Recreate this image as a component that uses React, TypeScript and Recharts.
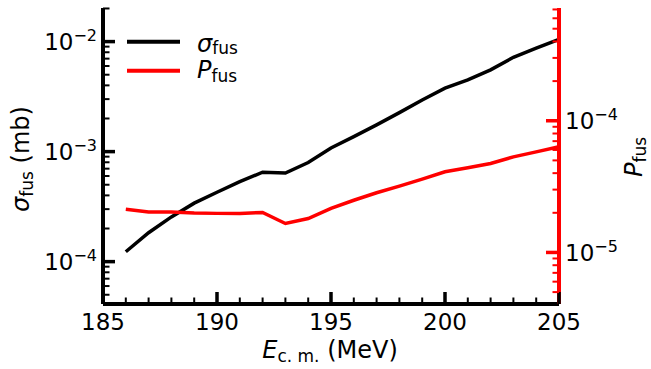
import React from 'react';
import { LineChart, Line, XAxis, YAxis, Legend } from 'recharts';

const energies = [186, 187, 188, 189, 190, 191, 192, 193, 194, 195, 196, 197, 198, 199, 200, 201, 202, 203, 204, 205];
const sigmaFus = [1.23e-4, 1.83e-4, 2.55e-4, 3.4e-4, 4.27e-4, 5.33e-4, 6.5e-4, 6.38e-4, 7.95e-4, 1.08e-3, 1.37e-3, 1.75e-3, 2.26e-3, 2.95e-3, 3.77e-3, 4.49e-3, 5.53e-3, 7.2e-3, 8.7e-3, 1.05e-2];
const pFus = [2.13e-5, 2.03e-5, 2.03e-5, 1.99e-5, 1.98e-5, 1.98e-5, 2.01e-5, 1.66e-5, 1.81e-5, 2.16e-5, 2.49e-5, 2.84e-5, 3.19e-5, 3.6e-5, 4.1e-5, 4.39e-5, 4.74e-5, 5.32e-5, 5.8e-5, 6.34e-5];

const xTicks = [185, 186, 187, 188, 189, 190, 191, 192, 193, 194, 195, 196, 197, 198, 199, 200, 201, 202, 203, 204, 205];
const xMajorTicks = [185, 190, 195, 200, 205];
const leftMajorTicks = [1e-4, 1e-3, 1e-2];
const leftMinorTicks = [5e-5, 6e-5, 7e-5, 8e-5, 9e-5, 2e-4, 3e-4, 4e-4, 5e-4, 6e-4, 7e-4, 8e-4, 9e-4, 2e-3, 3e-3, 4e-3, 5e-3, 6e-3, 7e-3, 8e-3, 9e-3, 2e-2];
const rightMajorTicks = [1e-5, 1e-4];
const rightMinorTicks = [5e-6, 6e-6, 7e-6, 8e-6, 9e-6, 2e-5, 3e-5, 4e-5, 5e-5, 6e-5, 7e-5, 8e-5, 9e-5, 2e-4, 3e-4, 4e-4, 5e-4, 6e-4, 7e-4];
const leftDomain = [4.12e-5, 2.02e-2];
const rightDomain = [4.06e-6, 7.18e-4];
const xDomain = [185, 205];

const legendItems = [
  { key: 'sigma', main: 'σ', sub: 'fus', color: '#000000' },
  { key: 'p', main: 'P', sub: 'fus', color: '#ff0000' },
];

const data = energies.map((e, i) => ({ E: e, sigma: sigmaFus[i], p: pFus[i] }));

const FONT = '"DejaVu Sans", Verdana, sans-serif';
const TICK_FS = 23;
const SUP_FS = 16;
const LABEL_FS = 24;
const SUB_FS = 17;

const isIn = (arr: number[], v: number) => arr.some((m) => Math.abs(m - v) / m < 1e-6);
const expOf = (v: number) => Math.round(Math.log10(v));

function LeftTick(props: any) {
  const { x, y, payload } = props;
  const v = payload.value;
  const major = isIn(leftMajorTicks, v);
  return (
    <g>
      <line x1={x} x2={x + (major ? 12 : 6.5)} y1={y} y2={y} stroke="#000" strokeWidth={major ? 3.5 : 2} />
      {major && (
        <text x={x - 6} y={y + 8.4} textAnchor="end" fontFamily={FONT} fontSize={TICK_FS} fill="#000">
          10<tspan dy={-9} fontSize={SUP_FS}>{'\u2212' + Math.abs(expOf(v))}</tspan>
        </text>
      )}
    </g>
  );
}

function RightTick(props: any) {
  const { x, y, payload } = props;
  const v = payload.value;
  const major = isIn(rightMajorTicks, v);
  return (
    <g>
      <line x1={x} x2={x - (major ? 13 : 6.5)} y1={y} y2={y} stroke="#ff0000" strokeWidth={major ? 3.5 : 2} />
      {major && (
        <text x={x + 6} y={y + 8.4} textAnchor="start" fontFamily={FONT} fontSize={TICK_FS} fill="#000">
          10<tspan dy={-9} fontSize={SUP_FS}>{'\u2212' + Math.abs(expOf(v))}</tspan>
        </text>
      )}
    </g>
  );
}

function BottomTick(props: any) {
  const { x, y, payload } = props;
  const v = payload.value;
  const major = xMajorTicks.includes(v);
  return (
    <g>
      <line x1={x} x2={x} y1={y} y2={y - (major ? 12 : 6.5)} stroke="#000" strokeWidth={major ? 3.5 : 2} />
      {major && (
        <text x={x} y={y + 25.5} textAnchor="middle" fontFamily={FONT} fontSize={TICK_FS} fill="#000">
          {v}
        </text>
      )}
    </g>
  );
}

function XLabel() {
  return (
    <text x={330} y={358} textAnchor="middle" fontFamily={FONT} fontSize={LABEL_FS} fill="#000">
      <tspan fontStyle="italic">E</tspan>
      <tspan fontSize={SUB_FS} dy={4}>c. m.</tspan>
      <tspan dy={-4}>{'\u00a0(MeV)'}</tspan>
    </text>
  );
}

function LeftLabel() {
  const cx = 29;
  const cy = 159;
  return (
    <text
      x={cx}
      y={cy}
      transform={`rotate(-90, ${cx}, ${cy})`}
      textAnchor="middle"
      fontFamily={FONT}
      fontSize={LABEL_FS}
      fill="#000"
    >
      <tspan fontStyle="italic">σ</tspan>
      <tspan fontSize={SUB_FS} dy={4}>fus</tspan>
      <tspan dy={-4}>{'\u00a0(mb)'}</tspan>
    </text>
  );
}

function RightLabel() {
  const cx = 642;
  const cy = 157;
  return (
    <text
      x={cx}
      y={cy}
      transform={`rotate(-90, ${cx}, ${cy})`}
      textAnchor="middle"
      fontFamily={FONT}
      fontSize={LABEL_FS}
      fill="#000"
    >
      <tspan fontStyle="italic">P</tspan>
      <tspan fontSize={SUB_FS} dy={3.5}>fus</tspan>
    </text>
  );
}

function LegendContent(props: any) {
  const payload: any[] = props.payload || [];
  return (
    <svg width={120} height={70} style={{ display: 'block', overflow: 'visible' }}>
      {legendItems.map((item, i) => {
        const entry = payload.find((p) => p && p.dataKey === item.key);
        const color = entry && entry.color ? entry.color : item.color;
        const lineY = i === 0 ? 16.7 : 45.7;
        const textY = i === 0 ? 26.6 : 53.3;
        return (
          <g key={item.key}>
            <line x1={7} x2={60} y1={lineY} y2={lineY} stroke={color} strokeWidth={4} />
            <text x={77} y={textY} fontFamily={FONT} fontSize={LABEL_FS} fill="#000">
              <tspan fontStyle="italic">{item.main}</tspan>
              <tspan fontSize={SUB_FS} dy={i === 0 ? 2 : 3.4}>{item.sub}</tspan>
            </text>
          </g>
        );
      })}
    </svg>
  );
}

export default function App() {
  return (
    <div style={{ position: 'absolute', left: 0, top: 0, width: 651, height: 369, background: '#fff' }}>
      <LineChart width={651} height={369} data={data} margin={{ top: 8, right: 0, bottom: 0, left: 0 }}>
        <Line
          yAxisId="left"
          type="linear"
          dataKey="sigma"
          name="σfus"
          stroke="#000000"
          strokeWidth={3.5}
          dot={false}
          activeDot={false}
          isAnimationActive={false}
        />
        <Line
          yAxisId="right"
          type="linear"
          dataKey="p"
          name="Pfus"
          stroke="#ff0000"
          strokeWidth={3.5}
          dot={false}
          activeDot={false}
          isAnimationActive={false}
        />
        <XAxis
          xAxisId="top"
          orientation="top"
          dataKey="E"
          type="number"
          domain={xDomain}
          height={0}
          tick={false}
          tickLine={false}
          axisLine={{ stroke: '#000', strokeWidth: 4 }}
        />
        <XAxis
          dataKey="E"
          type="number"
          domain={xDomain}
          ticks={xTicks}
          interval={0}
          height={65}
          tickSize={0}
          tickMargin={0}
          tickLine={false}
          tick={<BottomTick />}
          axisLine={{ stroke: '#000', strokeWidth: 4 }}
          label={<XLabel />}
        />
        <YAxis
          yAxisId="left"
          orientation="left"
          scale="log"
          type="number"
          domain={leftDomain}
          allowDataOverflow
          ticks={[...leftMajorTicks, ...leftMinorTicks]}
          interval={0}
          width={103}
          tickSize={0}
          tickMargin={0}
          tickLine={false}
          tick={<LeftTick />}
          axisLine={{ stroke: '#000', strokeWidth: 4 }}
          label={<LeftLabel />}
        />
        <YAxis
          yAxisId="right"
          orientation="right"
          scale="log"
          type="number"
          domain={rightDomain}
          allowDataOverflow
          ticks={[...rightMajorTicks, ...rightMinorTicks]}
          interval={0}
          width={92}
          tickSize={0}
          tickMargin={0}
          tickLine={false}
          tick={<RightTick />}
          axisLine={{ stroke: '#ff0000', strokeWidth: 4 }}
          label={<RightLabel />}
        />
        <Legend
          layout="vertical"
          align="center"
          verticalAlign="middle"
          content={<LegendContent />}
          wrapperStyle={{ left: 120, top: 25, width: 120, height: 70 }}
        />
      </LineChart>
    </div>
  );
}
